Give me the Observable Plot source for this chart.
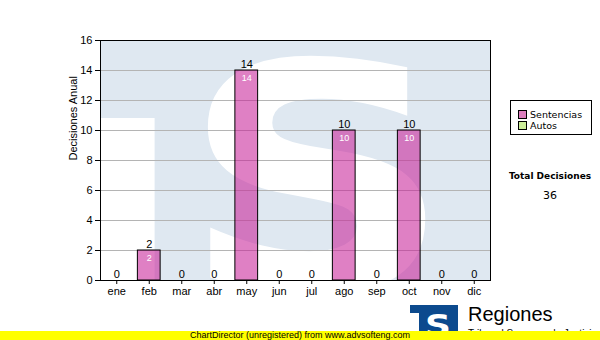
<!DOCTYPE html>
<html>
<head>
<meta charset="utf-8">
<script src="https://cdn.jsdelivr.net/npm/d3@7"></script>
<script src="https://cdn.jsdelivr.net/npm/@observablehq/plot@0.6"></script>
<style>
  html, body { margin: 0; padding: 0; background: #ffffff; }
  #wrap { position: relative; width: 600px; height: 340px; overflow: hidden; background: #fff; }
  #wrap > svg { position: absolute; left: 0; top: 0; }
  .legend { position: absolute; left: 510px; top: 100px; width: 82px; height: 35px; box-sizing: border-box;
            border: 1px solid #000; background: #fff; font-family: "DejaVu Sans", Verdana, sans-serif; font-size: 9.5px; }
  .legend .row { position: absolute; left: 7px; height: 11px; line-height: 11px; white-space: nowrap; }
  .legend .sw { display: inline-block; width: 7px; height: 7px; border: 1px solid #000; margin-right: 3px; vertical-align: -1px; }
  .total { position: absolute; left: 500px; width: 100px; text-align: center; font-family: "DejaVu Sans", Verdana, sans-serif; color: #000; }
  .footer { position: absolute; left: 0; top: 331px; width: 600px; height: 9px; background: #ffff00;
            font-family: "Liberation Sans", Arial, sans-serif; font-size: 9px; line-height: 9px; text-align: center; color: #000; }
  .logo { position: absolute; left: 410px; top: 305px; }
  .reg { position: absolute; left: 468px; top: 303px; font-family: "Liberation Sans", Arial, sans-serif; font-size: 20px; color: #000; }
  .reg2 { position: absolute; left: 468px; top: 328px; font-family: "Liberation Sans", Arial, sans-serif; font-size: 10px; color: #000; }
</style>
</head>
<body>
<div id="wrap"></div>
<script>
// ---- data ----
const months = ["ene", "feb", "mar", "abr", "may", "jun", "jul", "ago", "sep", "oct", "nov", "dic"];
const sentencias = [0, 2, 0, 0, 14, 0, 0, 10, 0, 10, 0, 0];
const autos = [0, 0, 0, 0, 0, 0, 0, 0, 0, 0, 0, 0];
const seriesNames = ["Sentencias", "Autos"];
const seriesColors = ["#dd7fbf", "#ccee99"];
const yTicks = [0, 2, 4, 6, 8, 10, 12, 14, 16];
const yLabel = "Decisiones Anual";
const totalLabel = "Total Decisiones";
const footerText = "ChartDirector (unregistered) from www.advsofteng.com";

const data = months.map((m, i) => ({month: m, value: sentencias[i] + autos[i]}));
const total = d3.sum(sentencias) + d3.sum(autos);

// watermark (decorative background logo, positioned relative to the frame)
function watermark(index, scales, values, dims) {
  const x0 = dims.marginLeft, y0 = dims.marginTop;
  const w = dims.width - dims.marginLeft - dims.marginRight;
  const h = dims.height - dims.marginTop - dims.marginBottom;
  const g = d3.create("svg:g");
  const id = "wmclip";
  g.append("clipPath").attr("id", id).append("rect")
    .attr("x", x0).attr("y", y0).attr("width", w).attr("height", h);
  const gg = g.append("g").attr("clip-path", `url(#${id})`);
  gg.append("rect").attr("x", x0).attr("y", y0 + h * 0.325)
    .attr("width", w * 0.14).attr("height", h).attr("fill", "#ffffff");
  const cx = x0 + w * 0.556, by = y0 + h * 1.04;
  gg.append("text")
    .attr("transform", `translate(${cx},${by}) scale(1.2,1)`)
    .attr("text-anchor", "middle")
    .attr("font-family", "DejaVu Sans, Verdana, sans-serif")
    .attr("font-weight", "bold").attr("font-size", 315)
    .attr("fill", "#ffffff").text("S");
  return g.node();
}

const plot = Plot.plot({
  width: 600,
  height: 340,
  marginLeft: 100,
  marginRight: 110,
  marginTop: 40,
  marginBottom: 60,
  style: {fontFamily: "'Liberation Sans', Arial, sans-serif", fontSize: "11px", background: "transparent", color: "#000"},
  x: {domain: months, paddingInner: 0.3, paddingOuter: 0.15, round: false, label: null},
  y: {domain: [0, 16], label: null},
  marks: [
    Plot.frame({fill: "#dfe8f1"}),
    watermark,
    Plot.gridY(yTicks, {stroke: "#b4b4b4", strokeOpacity: 1}),
    Plot.barY(data.filter(d => d.value > 0), {x: "month", y: "value", fill: "#c8259a", fillOpacity: 0.58, stroke: "#000", strokeWidth: 1}),
    Plot.frame({stroke: "#000", strokeWidth: 1}),
    Plot.axisY(yTicks, {tickSize: 5, tickPadding: 3, fontSize: 11, label: null}),
    Plot.axisX({tickSize: 4, tickPadding: 3, fontSize: 11, label: null}),
    Plot.text(data, {x: "month", y: "value", text: d => String(d.value), dy: -6.5, fontSize: 11, fill: "#000"}),
    Plot.text(data.filter(d => d.value > 0), {x: "month", y: "value", text: d => String(d.value), dy: 8, fontSize: 9, fill: "#ffffff"}),
    Plot.text([yLabel], {frameAnchor: "left", dx: -27, rotate: -90, fontSize: 11, fill: "#000"})
  ]
});

const wrap = document.getElementById("wrap");
wrap.appendChild(plot);

// legend
const legend = document.createElement("div");
legend.className = "legend";
seriesNames.forEach((name, i) => {
  const row = document.createElement("div");
  row.className = "row";
  row.style.top = (8 + i * 11) + "px";
  row.innerHTML = `<span class="sw" style="background:${seriesColors[i]}"></span>${name}`;
  legend.appendChild(row);
});
wrap.appendChild(legend);

// total
const t1 = document.createElement("div");
t1.className = "total";
t1.style.top = "171px";
t1.style.fontWeight = "bold";
t1.style.fontSize = "9px";
t1.textContent = totalLabel;
wrap.appendChild(t1);
const t2 = document.createElement("div");
t2.className = "total";
t2.style.top = "189px";
t2.style.fontSize = "11px";
t2.textContent = String(total);
wrap.appendChild(t2);

// logo
const logo = document.createElement("div");
logo.className = "logo";
logo.innerHTML = `<svg width="48" height="30" xmlns="http://www.w3.org/2000/svg">
  <rect x="0" y="0" width="48" height="30" fill="#0c4a8e"/>
  <rect x="0" y="8" width="9" height="22" fill="#ffffff"/>
  <text transform="translate(28,31) scale(1.2,1)" text-anchor="middle" font-family="DejaVu Sans, Verdana, sans-serif" font-weight="bold" font-size="30" fill="#ffffff">S</text>
</svg>`;
wrap.appendChild(logo);
const reg = document.createElement("div");
reg.className = "reg";
reg.textContent = "Regiones";
wrap.appendChild(reg);
const reg2 = document.createElement("div");
reg2.className = "reg2";
reg2.textContent = "Tribunal Supremo de Justicia";
wrap.appendChild(reg2);

// footer
const foot = document.createElement("div");
foot.className = "footer";
foot.textContent = footerText;
wrap.appendChild(foot);
</script>
</body>
</html>
